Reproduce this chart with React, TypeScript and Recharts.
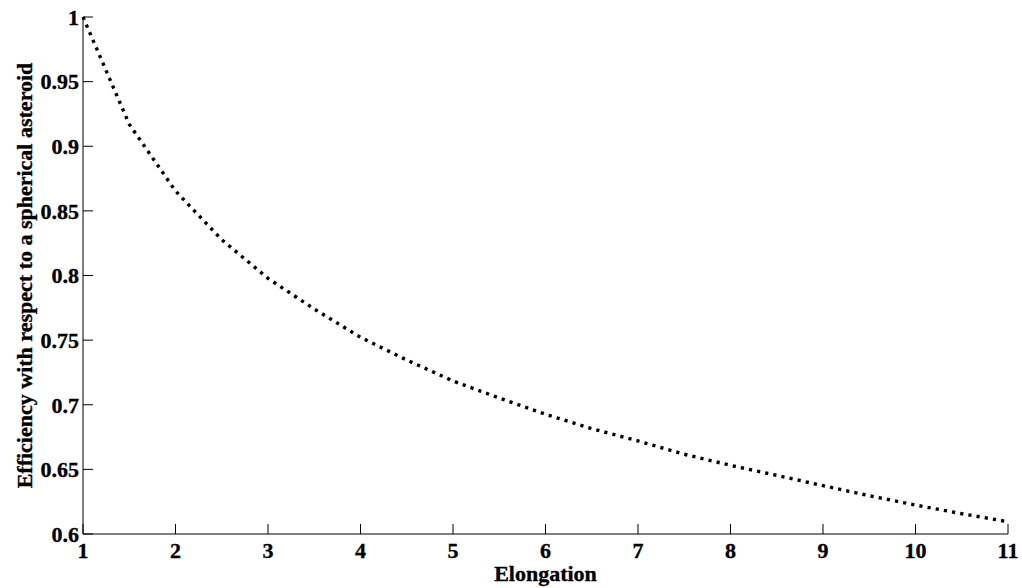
import React from 'react';
import { LineChart, Line, XAxis, YAxis, Label } from 'recharts';

const elongation = [1, 1.5, 2, 2.5, 3, 3.5, 4, 4.5, 5, 5.5, 6, 6.5, 7, 7.5, 8, 8.5, 9, 9.5, 10, 10.5, 11];
const efficiency = [1.0, 0.917, 0.8654, 0.8277, 0.7978, 0.7741, 0.7522, 0.7346, 0.7184, 0.7052, 0.6926, 0.6815, 0.672, 0.6617, 0.6531, 0.6454, 0.6374, 0.6296, 0.6224, 0.6157, 0.6095];
const xTicks = [1, 2, 3, 4, 5, 6, 7, 8, 9, 10, 11];
const yTicks = [0.6, 0.65, 0.7, 0.75, 0.8, 0.85, 0.9, 0.95, 1];
const xLabel = 'Elongation';
const yLabel = 'Efficiency with respect to a spherical asteroid';

const data = elongation.map((x, i) => ({ x, y: efficiency[i] }));

const FONT = '"Liberation Serif", "Times New Roman", serif';
const textStyle = { fontFamily: FONT, fontWeight: 'bold' as const, fontSize: 22, fill: '#000', stroke: '#000', strokeWidth: 0.35 };

const XTick = (props: any) => {
  const { x, y, payload } = props;
  const axisY = y - 8;
  return (
    <g>
      <line x1={x} y1={axisY} x2={x} y2={axisY - 10} stroke="#000" strokeWidth={1} />
      <text x={x} y={y} dy="0.71em" textAnchor="middle" style={textStyle}>
        {String(payload.value)}
      </text>
    </g>
  );
};

const YTick = (props: any) => {
  const { x, y, payload } = props;
  const axisX = x + 4;
  return (
    <g>
      <line x1={axisX} y1={y} x2={axisX + 10} y2={y} stroke="#000" strokeWidth={1} />
      <text x={x} y={y} dy="0.355em" textAnchor="end" style={textStyle}>
        {String(payload.value)}
      </text>
    </g>
  );
};

const XLabelContent = (props: any) => {
  const vb = props.viewBox || {};
  return (
    <text x={vb.x + vb.width / 2} y={vb.y + 47} textAnchor="middle" style={textStyle}>
      {xLabel}
    </text>
  );
};

const YLabelContent = (props: any) => {
  const vb = props.viewBox || {};
  const cx = vb.x + 32;
  const cy = vb.y + vb.height / 2;
  return (
    <text x={cx} y={cy} textAnchor="middle" transform={`rotate(-90 ${cx} ${cy})`} style={textStyle}>
      {yLabel}
    </text>
  );
};

export default function App() {
  return (
    <div style={{ position: 'absolute', left: 0, top: 0, width: 1022, height: 588, background: '#fff' }}>
      <LineChart width={1022} height={588} data={data} margin={{ top: 17, right: 14, bottom: 0, left: 0 }}>
        <XAxis
          dataKey="x"
          type="number"
          domain={[1, 11]}
          ticks={xTicks}
          height={54}
          axisLine={{ stroke: '#000', strokeWidth: 1 }}
          tickLine={false}
          tickSize={0}
          tickMargin={8}
          tick={XTick}
          interval={0}
        >
          <Label content={XLabelContent} />
        </XAxis>
        <YAxis
          type="number"
          domain={[0.6, 1]}
          ticks={yTicks}
          width={83}
          axisLine={{ stroke: '#000', strokeWidth: 1 }}
          tickLine={false}
          tickSize={0}
          tickMargin={4}
          tick={YTick}
          interval={0}
        >
          <Label content={YLabelContent} />
        </YAxis>
        <Line
          type="linear"
          dataKey="y"
          stroke="#000"
          strokeWidth={3.4}
          strokeDasharray="3.2 5.1"
          dot={false}
          activeDot={false}
          isAnimationActive={false}
        />
      </LineChart>
    </div>
  );
}
